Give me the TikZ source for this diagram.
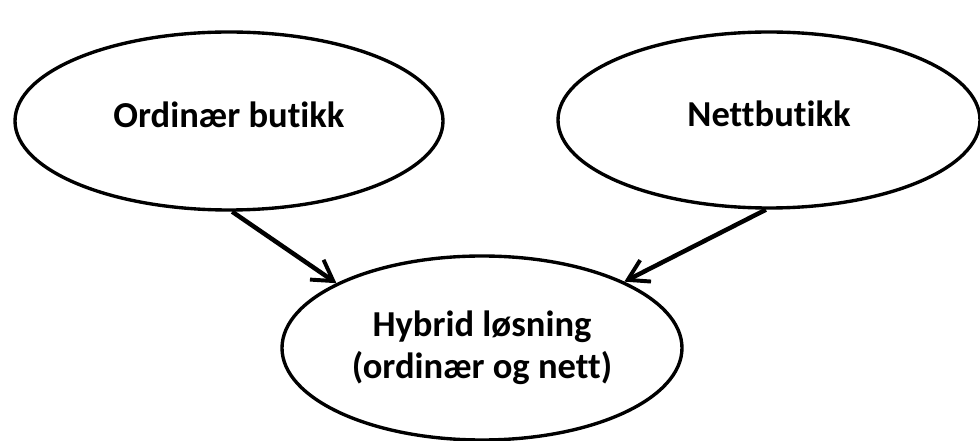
\documentclass[tikz,border=0pt]{standalone}
\usepackage{fontspec}
\setmainfont{Carlito}[Ligatures=NoCommon]
\usetikzlibrary{shapes.geometric,arrows.meta}

\tikzset{
  bubble/.style={ellipse, draw, line width=2.4pt, inner sep=0pt,
    font=\fontsize{26}{30}\selectfont\bfseries, align=center},
  flow/.style={line width=3.2pt, -{Straight Barb[length=0.5cm,width=0.6cm,line width=2.8pt]}}
}

\begin{document}
\begin{tikzpicture}
\useasboundingbox (0,0) rectangle (24.5,11.025);

\node[bubble, minimum width=10.7cm, minimum height=4.45cm, text depth=0.3cm] (ordinaer) at (5.725,8.0) {Ordinær butikk};
\node[bubble, minimum width=10.55cm, minimum height=4.4cm, text depth=0.3cm] (nett) at (19.225,8.025) {Nettbutikk};
\node[bubble, minimum width=10.0cm, minimum height=4.6cm] (hybrid) at (12.05,2.325) {Hybrid løsning\\(ordinær og nett)};

\draw[flow] (ordinaer.-88) -- (hybrid.156);
\draw[flow] (nett.-92) -- (hybrid.25);
\end{tikzpicture}
\end{document}
